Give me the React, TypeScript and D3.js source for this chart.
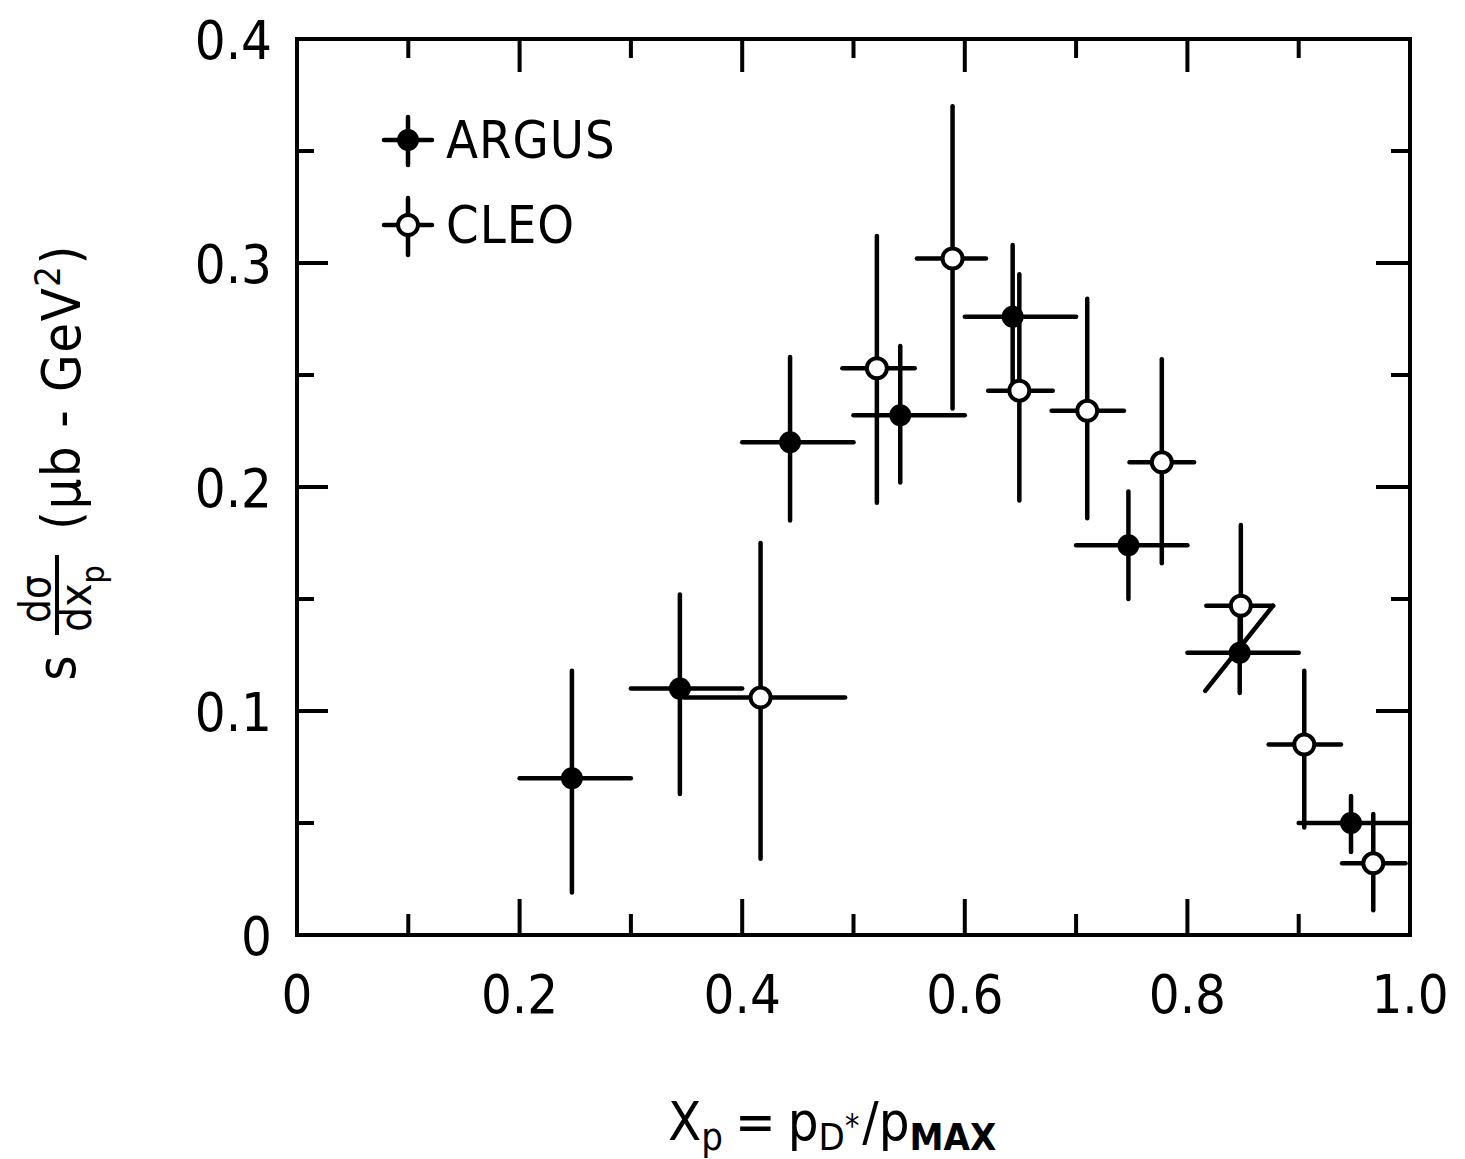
import React from "react";
import * as d3 from "d3";

// ARGUS (filled markers)
const argusX = [0.247, 0.344, 0.443, 0.542, 0.643, 0.747, 0.847, 0.947];
const argusXLo = [0.2, 0.3, 0.4, 0.5, 0.6, 0.7, 0.8, 0.9];
const argusXHi = [0.3, 0.4, 0.5, 0.6, 0.7, 0.8, 0.9, 1.0];
const argusY = [0.070, 0.110, 0.220, 0.232, 0.276, 0.174, 0.126, 0.050];
const argusYLo = [0.019, 0.063, 0.185, 0.202, 0.246, 0.150, 0.108, 0.037];
const argusYHi = [0.118, 0.152, 0.258, 0.263, 0.308, 0.198, 0.145, 0.062];

// CLEO (open markers)
const cleoX = [0.4165, 0.521, 0.589, 0.649, 0.71, 0.777, 0.848, 0.905, 0.967];
const cleoXLo = [0.348, 0.49, 0.557, 0.621, 0.678, 0.748, 0.817, 0.873, 0.939];
const cleoXHi = [0.4925, 0.555, 0.619, 0.679, 0.743, 0.806, 0.877, 0.938, 0.996];
const cleoY = [0.106, 0.253, 0.302, 0.243, 0.234, 0.211, 0.147, 0.085, 0.032];
const cleoYLo = [0.034, 0.193, 0.235, 0.194, 0.186, 0.166, 0.125, 0.048, 0.011];
const cleoYHi = [0.175, 0.312, 0.370, 0.295, 0.284, 0.257, 0.183, 0.118, 0.054];

// stray diagonal stroke near x = 0.85
const slashX = [0.877, 0.816];
const slashY = [0.147, 0.109];

const xTickLabels = ["0", "0.2", "0.4", "0.6", "0.8", "1.0"];
const xLabelValues = [0, 0.2, 0.4, 0.6, 0.8, 1.0];
const yTickLabels = ["0", "0.1", "0.2", "0.3", "0.4"];
const yLabelValues = [0, 0.1, 0.2, 0.3, 0.4];
const xTickValues = [0.1, 0.2, 0.3, 0.4, 0.5, 0.6, 0.7, 0.8, 0.9];
const yTickValues = [0.05, 0.1, 0.15, 0.2, 0.25, 0.3, 0.35];

const FONT = "'DejaVu Sans Condensed', 'DejaVu Sans', sans-serif";

export default function App() {
  const x = d3.scaleLinear().domain([0, 1]).range([297, 1410]);
  const y = d3.scaleLinear().domain([0, 0.4]).range([935, 39]);
  const SW = 4.5;
  const isMajorX = (v: number) => Math.round(v * 10) % 2 === 0;
  const isMajorY = (v: number) => Math.round(v * 20) % 2 === 0;

  const argus = argusX.map((v, i) => ({ x: v, xl: argusXLo[i], xh: argusXHi[i], y: argusY[i], yl: argusYLo[i], yh: argusYHi[i] }));
  const cleo = cleoX.map((v, i) => ({ x: v, xl: cleoXLo[i], xh: cleoXHi[i], y: cleoY[i], yl: cleoYLo[i], yh: cleoYHi[i] }));
  const slashLine = d3.line<number>().x((_, i) => x(slashX[i])).y((_, i) => y(slashY[i]));

  return (
    <svg width={1465} height={1159} style={{ position: "absolute", left: 0, top: 0, background: "#fff" }}>
      <rect x={0} y={0} width={1465} height={1159} fill="#fff" />
      {/* frame */}
      <rect x={x(0)} y={y(0.4)} width={x(1) - x(0)} height={y(0) - y(0.4)} fill="none" stroke="#000" strokeWidth={4} />
      {/* x ticks bottom & top */}
      {xTickValues.map((v) => {
        const len = isMajorX(v) ? 36 : 21;
        const lenT = isMajorX(v) ? 33 : 19;
        return (
          <g key={"xt" + v}>
            <line x1={x(v)} x2={x(v)} y1={y(0)} y2={y(0) - len} stroke="#000" strokeWidth={4} />
            <line x1={x(v)} x2={x(v)} y1={y(0.4)} y2={y(0.4) + lenT} stroke="#000" strokeWidth={4} />
          </g>
        );
      })}
      {/* y ticks left & right */}
      {yTickValues.map((v) => {
        const len = isMajorY(v) ? 31 : 17;
        const lenR = isMajorY(v) ? 34 : 19;
        return (
          <g key={"yt" + v}>
            <line x1={x(0)} x2={x(0) + len} y1={y(v)} y2={y(v)} stroke="#000" strokeWidth={4} />
            <line x1={x(1)} x2={x(1) - lenR} y1={y(v)} y2={y(v)} stroke="#000" strokeWidth={4} />
          </g>
        );
      })}
      {/* tick labels */}
      {xLabelValues.map((v, i) => (
        <text key={"xl" + i} x={x(v)} y={1013} fontSize={54} fontFamily={FONT} textAnchor="middle" fill="#000">
          {xTickLabels[i]}
        </text>
      ))}
      {yLabelValues.map((v, i) => (
        <text key={"yl" + i} x={272} y={y(v) + 20} fontSize={54} fontFamily={FONT} textAnchor="end" fill="#000">
          {yTickLabels[i]}
        </text>
      ))}

      {/* error bars */}
      {[...argus, ...cleo].map((d, i) => (
        <g key={"eb" + i} stroke="#000" strokeWidth={SW} strokeLinecap="round">
          <line x1={x(d.xl)} x2={x(d.xh)} y1={y(d.y)} y2={y(d.y)} />
          <line x1={x(d.x)} x2={x(d.x)} y1={y(d.yl)} y2={y(d.yh)} />
        </g>
      ))}
      <path d={slashLine([0, 1]) || ""} stroke="#000" strokeWidth={SW} fill="none" strokeLinecap="round" />
      {/* markers */}
      {argus.map((d, i) => (
        <circle key={"am" + i} cx={x(d.x)} cy={y(d.y)} r={11} fill="#000" />
      ))}
      {cleo.map((d, i) => (
        <circle key={"cm" + i} cx={x(d.x)} cy={y(d.y)} r={10} fill="#fff" stroke="#000" strokeWidth={4} />
      ))}

      {/* legend */}
      <g stroke="#000" strokeWidth={SW} strokeLinecap="round">
        <line x1={384} x2={432} y1={140} y2={140} />
        <line x1={408} x2={408} y1={117} y2={165} />
        <line x1={384} x2={432} y1={225} y2={225} />
        <line x1={408} x2={408} y1={198} y2={255} />
      </g>
      <circle cx={408} cy={140} r={11} fill="#000" />
      <circle cx={408} cy={225} r={10} fill="#fff" stroke="#000" strokeWidth={4} />
      <text x={446} y={158} fontSize={52} letterSpacing={1} fontFamily={FONT} fill="#000">ARGUS</text>
      <text x={446} y={243} fontSize={52} letterSpacing={1} fontFamily={FONT} fill="#000">CLEO</text>

      {/* y axis title */}
      <g transform="translate(80,692) rotate(-90)" fontFamily={FONT} fill="#000">
        <text x={24} y={-5} fontSize={54} textAnchor="middle">s</text>
        <text x={93} y={-30} fontSize={42} textAnchor="middle">dσ</text>
        <line x1={57} x2={137} y1={-23} y2={-23} stroke="#000" strokeWidth={4} />
        <text x={60} y={11} fontSize={44}>
          dx<tspan dy={13} fontSize={32}>p</tspan>
        </text>
        <text x={162} y={0} fontSize={54} letterSpacing={1.5}>
          (μb - GeV<tspan dy={-20} fontSize={36}>2</tspan><tspan dy={20}>)</tspan>
        </text>
      </g>

      {/* x axis title */}
      <text x={668} y={1140} fontSize={54} fontFamily={FONT} fill="#000">
        X<tspan dy={10} fontSize={38}>p</tspan>
        <tspan dy={-10} dx={12}>=</tspan>
        <tspan dx={12}>p</tspan>
        <tspan dy={10} fontSize={38}>D</tspan>
        <tspan dy={-14} fontSize={32}>*</tspan>
        <tspan dy={4} dx={3}>/</tspan>
        <tspan>p</tspan>
        <tspan dy={10} fontSize={38} fontWeight="bold">MAX</tspan>
      </text>
    </svg>
  );
}
